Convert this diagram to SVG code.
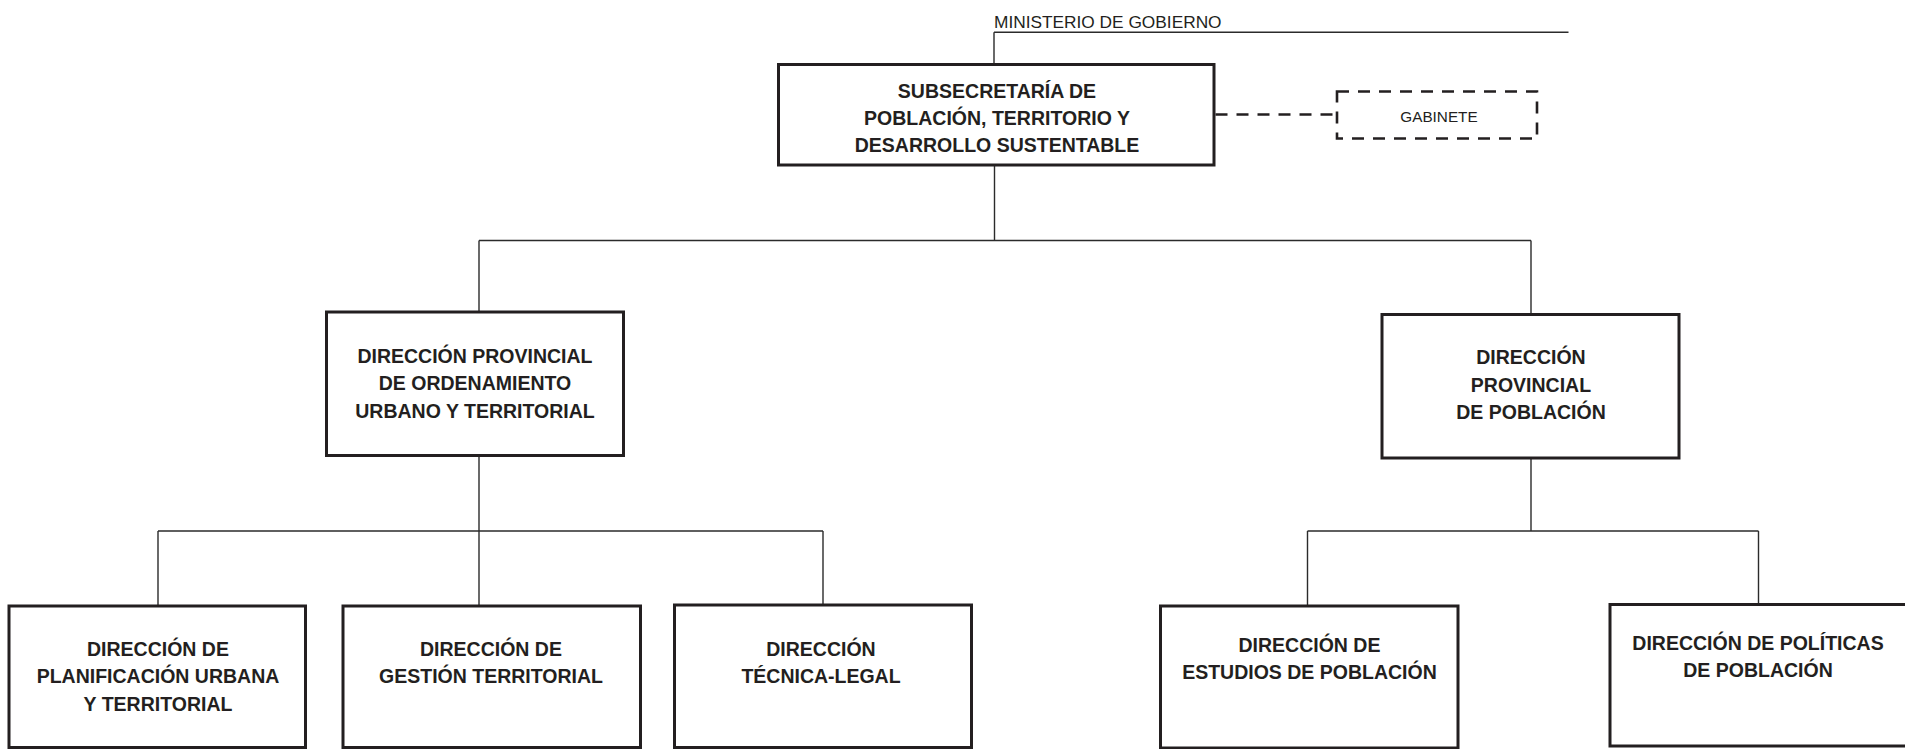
<svg xmlns="http://www.w3.org/2000/svg" width="1905" height="749" viewBox="0 0 1905 749">
<style>
.box{fill:#fff;stroke:#231f20;stroke-width:3}
.dbox{fill:#fff;stroke:#231f20;stroke-width:2.6;stroke-dasharray:12 9}
.ln{fill:none;stroke:#2b2b2b;stroke-width:1.4}
.dl{fill:none;stroke:#231f20;stroke-width:2.6;stroke-dasharray:12 9}
.t{font-family:"Liberation Sans",Arial,sans-serif;font-weight:bold;font-size:19.5px;fill:#231f20;text-anchor:middle}
.s{font-family:"Liberation Sans",Arial,sans-serif;font-size:15.3px;fill:#231f20;text-anchor:middle}
.m{font-family:"Liberation Sans",Arial,sans-serif;font-size:17.3px;fill:#231f20}
</style>
<rect width="1905" height="749" fill="#fff"/>
<g id="connectors">
<path class="ln" d="M994 32.3H1568.5M994 32.3V64.5"/>
<path class="ln" d="M994.5 165V240.5M479 240.5H1531M479 240.5V312M1531 240.5V314.5"/>
<path class="ln" d="M479 455.5V531M158 531H823M158 531V606M479 531V606M823 531V605"/>
<path class="ln" d="M1531 458V531M1307.5 531H1758.5M1307.5 531V606M1758.5 531V604.5"/>
<path class="dl" d="M1215.5 114.5H1337"/>
</g>
<g id="ministerio">
<text class="m" x="994" y="28">MINISTERIO DE GOBIERNO</text>
</g>
<g id="subsecretaria">
<rect class="box" x="778.5" y="64.5" width="435.5" height="100.5"/>
<text class="t" x="997" y="97.7" font-size="19.2">SUBSECRETARÍA DE</text>
<text class="t" x="997" y="124.7" font-size="19.2">POBLACIÓN, TERRITORIO Y</text>
<text class="t" x="997" y="151.7" font-size="19.2">DESARROLLO SUSTENTABLE</text>
</g>
<g id="gabinete">
<rect class="dbox" x="1337" y="91.5" width="200" height="47"/>
<text class="s" x="1439" y="121.5">GABINETE</text>
</g>
<g id="dp-ordenamiento">
<rect class="box" x="326.5" y="312" width="297" height="143.5"/>
<text class="t" x="475" y="362.7">DIRECCIÓN PROVINCIAL</text>
<text class="t" x="475" y="390">DE ORDENAMIENTO</text>
<text class="t" x="475" y="417.7">URBANO Y TERRITORIAL</text>
</g>
<g id="dp-poblacion">
<rect class="box" x="1382" y="314.5" width="297" height="143.5"/>
<text class="t" x="1531" y="364">DIRECCIÓN</text>
<text class="t" x="1531" y="391.7">PROVINCIAL</text>
<text class="t" x="1531" y="419">DE POBLACIÓN</text>
</g>
<g id="d-planificacion">
<rect class="box" x="9" y="606" width="296.5" height="141.5"/>
<text class="t" x="158" y="656">DIRECCIÓN DE</text>
<text class="t" x="158" y="683.3">PLANIFICACIÓN URBANA</text>
<text class="t" x="158" y="711">Y TERRITORIAL</text>
</g>
<g id="d-gestion">
<rect class="box" x="343" y="606" width="297.5" height="141.5"/>
<text class="t" x="491" y="656">DIRECCIÓN DE</text>
<text class="t" x="491" y="683.3">GESTIÓN TERRITORIAL</text>
</g>
<g id="d-tecnica">
<rect class="box" x="674.5" y="605" width="297" height="142.5"/>
<text class="t" x="821" y="655.5">DIRECCIÓN</text>
<text class="t" x="821" y="683">TÉCNICA-LEGAL</text>
</g>
<g id="d-estudios">
<rect class="box" x="1160.5" y="606" width="297.5" height="142"/>
<text class="t" x="1309.5" y="651.5">DIRECCIÓN DE</text>
<text class="t" x="1309.5" y="678.5">ESTUDIOS DE POBLACIÓN</text>
</g>
<g id="d-politicas">
<rect class="box" x="1610" y="604.5" width="297" height="141.5"/>
<text class="t" x="1758" y="650">DIRECCIÓN DE POLÍTICAS</text>
<text class="t" x="1758" y="677">DE POBLACIÓN</text>
</g>
</svg>
